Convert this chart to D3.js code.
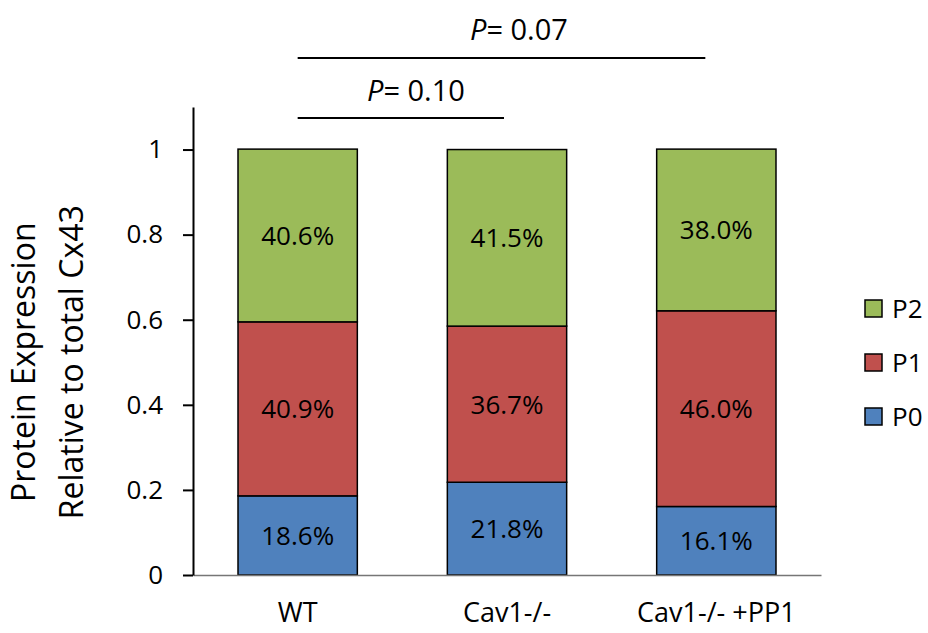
<!DOCTYPE html>
<html>
<head>
<meta charset="utf-8">
<script src="https://cdn.jsdelivr.net/npm/d3@7"></script>
<style>
  body { margin: 0; background: #fff; }
  svg text { font-family: "Open Sans", sans-serif; }
</style>
</head>
<body>
<svg></svg>
<script>
const groups = ['WT', 'Cav1-/-', 'Cav1-/- +PP1'];
const p0 = [18.6, 21.8, 16.1];
const p1 = [40.9, 36.7, 46.0];
const p2 = [40.6, 41.5, 38.0];
const seriesNames = ['P0', 'P1', 'P2'];
const seriesColors = ['#4f81bd', '#c0504d', '#9bbb59'];
const yTicks = [0, 0.2, 0.4, 0.6, 0.8, 1];
const pLabels = ['P= 0.10', 'P= 0.07'];

const WIDTH = 928,
      HEIGHT = 633,
      MARGINS = { top: 107, right: 107, bottom: 58, left: 193 };

let svg = d3.select('svg')
   .attr('width', WIDTH)
   .attr('height', HEIGHT);

const innerW = WIDTH - MARGINS.left - MARGINS.right,
      innerH = HEIGHT - MARGINS.top - MARGINS.bottom;

// rows for the stack
let rows = groups.map((g, i) => ({ group: g, P0: p0[i] / 100, P1: p1[i] / 100, P2: p2[i] / 100 }));
let stacked = d3.stack().keys(seriesNames)(rows);

var x = d3.scaleBand().domain(groups).range([0, innerW]).paddingInner(0.43).paddingOuter(0.215);
var y = d3.scaleLinear().domain([0, 1.1]).range([innerH, 0]);
var color = d3.scaleOrdinal().domain(seriesNames).range(seriesColors);

var g = svg.append('g')
   .attr('transform', 'translate(' + MARGINS.left + ',' + MARGINS.top + ')');

// bars
let layer = g.selectAll('.layer')
   .data(stacked)
   .join('g')
   .attr('fill', d => color(d.key));

layer.selectAll('rect')
   .data(d => d)
   .join('rect')
   .attr('x', d => x(d.data.group))
   .attr('y', d => y(d[1]))
   .attr('width', x.bandwidth())
   .attr('height', d => y(d[0]) - y(d[1]))
   .attr('stroke', '#000')
   .attr('stroke-width', 1.5);

layer.selectAll('text')
   .data(d => d.map(v => ({ v: v, key: d.key })))
   .join('text')
   .attr('x', d => x(d.v.data.group) + x.bandwidth() / 2)
   .attr('y', d => (y(d.v[0]) + y(d.v[1])) / 2)
   .attr('dy', '0.36em')
   .attr('text-anchor', 'middle')
   .attr('fill', '#000')
   .attr('font-size', 26)
   .text(d => (d.v.data[d.key] * 100).toFixed(1) + '%');

// x axis
let xAxis = g.append('g')
   .attr('transform', 'translate(0,' + innerH + ')')
   .call(d3.axisBottom(x).tickSize(0).tickPadding(28));
xAxis.attr('font-family', null).attr('font-size', null);
xAxis.select('.domain').attr('stroke', '#767676').attr('stroke-width', 1.5);
xAxis.selectAll('text').attr('font-size', 27).attr('fill', '#000');

// y axis
let yAxis = g.append('g')
   .call(d3.axisLeft(y).tickValues(yTicks).tickSizeInner(10).tickSizeOuter(0).tickPadding(20).tickFormat(d3.format('')));
yAxis.attr('font-family', null).attr('font-size', null);
yAxis.select('.domain').attr('stroke-width', 2);
yAxis.selectAll('.tick line').attr('stroke-width', 2);
yAxis.selectAll('text').attr('font-size', 26).attr('fill', '#000');

// y title
let title = svg.append('text')
   .attr('transform', 'translate(0,' + (MARGINS.top + y(0.5)) + ') rotate(-90)')
   .attr('text-anchor', 'middle')
   .attr('font-size', 32);
title.append('tspan').attr('x', 0).attr('y', 35).text('Protein Expression');
title.append('tspan').attr('x', 0).attr('y', 83).text('Relative to total Cx43');

// legend
let legend = svg.append('g')
   .attr('transform', 'translate(865,300)');
let legendItems = legend.selectAll('g')
   .data(seriesNames.slice().reverse())
   .join('g')
   .attr('transform', (d, i) => 'translate(0,' + i * 54 + ')');
legendItems.append('rect')
   .attr('width', 17).attr('height', 17)
   .attr('fill', d => color(d))
   .attr('stroke', '#000')
   .attr('stroke-width', 1.5);
legendItems.append('text')
   .attr('x', 27).attr('y', 8.5).attr('dy', '0.36em')
   .attr('font-size', 26)
   .text(d => d);

// significance brackets
const brackets = [
   { from: 'WT', to: 'Cav1-/-', yPx: 118, textX: 367, textY: 101, endShift: -3 },
   { from: 'WT', to: 'Cav1-/- +PP1', yPx: 58, textX: 470, textY: 40, endShift: -11 }
];
brackets.forEach((b, i) => {
   let x1 = MARGINS.left + x(b.from) + x.bandwidth() / 2;
   let x2 = MARGINS.left + x(b.to) + x.bandwidth() / 2 + b.endShift;
   svg.append('line')
      .attr('x1', x1).attr('x2', x2)
      .attr('y1', b.yPx).attr('y2', b.yPx)
      .attr('stroke', '#000').attr('stroke-width', 2);
   let t = svg.append('text')
      .attr('x', b.textX).attr('y', b.textY)
      .attr('font-size', 29);
   let parts = pLabels[i].split('=');
   t.append('tspan').attr('font-style', 'italic').text(parts[0]);
   t.append('tspan').text('=' + parts[1]);
});
</script>
</body>
</html>
